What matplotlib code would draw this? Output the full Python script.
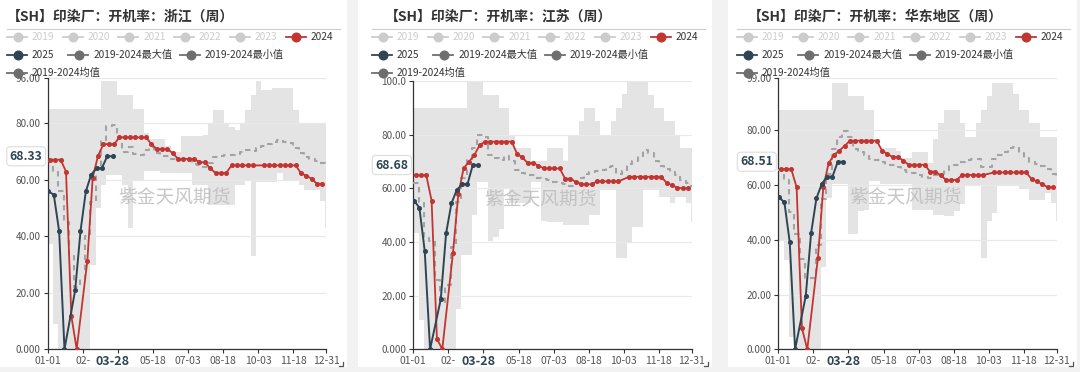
import numpy as np
import matplotlib
matplotlib.use("Agg")
import matplotlib.pyplot as plt
from matplotlib.lines import Line2D
from matplotlib.patches import Rectangle
from matplotlib.transforms import blended_transform_factory
import datetime as dt

plt.rcParams['font.family'] = ['Noto Sans CJK SC', 'DejaVu Sans']

nan = np.nan
W, H = 1080, 372

# ---------------- data ----------------
TITLES = ['【SH】印染厂：开机率：浙江（周）',
          '【SH】印染厂：开机率：江苏（周）',
          '【SH】印染厂：开机率：华东地区（周）']
TICK_DATES = ['01-01', '02-16', '04-02', '05-18', '07-03', '08-18', '10-03', '11-18', '12-31']
POINTER_DATE = '03-28'
START_2024 = '01-04'
START_2025 = '01-02'
WATERMARK = '紫金天风期货'
LEGEND_NAMES = ['2019', '2020', '2021', '2022', '2023', '2024',
                '2025', '2019-2024最大值', '2019-2024最小值', '2019-2024均值']

Y_MAX = [96, 100, 99]
Y_TICK_LABELS = [['0.000', '20.00', '40.00', '60.00', '80.00', '96.00'],
                 ['0.000', '20.00', '40.00', '60.00', '80.00', '100.0'],
                 ['0.000', '20.00', '40.00', '60.00', '80.00', '99.00']]
POINTER_LABELS = ['68.33', '68.68', '68.51']

# 浙江
zj_2024 = [67.1, 67.1, 67.1, 62.9, 11.8, 0.0, nan, 31.4, 60.8, 68.5,
           72.6, 72.6, 72.6, 75.0, 75.0, 75.0, 75.0, 75.0, 75.0, 72.6,
           70.9, 70.9, 70.9, 69.4, 67.4, 67.4, 67.4, 67.4, 66.2, 66.2,
           64.1, 62.4, 62.4, 62.4, 65.1, 65.1, 65.1, 65.1, 65.1, nan,
           65.1, 65.1, 65.1, 65.1, 65.1, 65.1, 65.1, 62.4, 61.4, 60.4,
           58.6, 58.6]
zj_2025 = [55.9, 54.7, 41.8, 0.0, nan, 20.9, 41.8, 55.9, 61.8, 64.1, 64.1, 68.33, 68.33]
zj_mean = [66.5, 63, 56, 45, 33, 22, 25, 40, 52, 65,
           74, 79, 79.5, 75, 70, 71.5, 69, 68.8, 70.5, 71.5,
           69.5, 68.5, 68.5, 67.5, 67, 67, 66.5, 65.5, 65.3, 64.7,
           66, 68, 68.5, 68.8, 68.8, 69.3, 69.9, 70.6, 70.2, 71.2,
           71.8, 72.8, 73.5, 74.1, 73.5, 72.9, 71.3, 69.5, 68, 67.3,
           66.5, 65.8, 64.7]
zj_max = [85, 85, 85, 85, 85, 85, 85, 85, 85, 85,
          95, 95, 95, 90, 90, 90, 85, 85, 76.5, 74.5,
          74.5, 74.5, 72, 70, 70, 75.5, 75.5, 75.5, 75.5, 76,
          80, 84.7, 84.7, 80, 78.8, 77.6, 80, 84.7, 90, 95,
          91.8, 91.8, 92.6, 92.6, 92.6, 92.6, 84.7, 80, 80, 80,
          80, 80, 80]
zj_min = [37.3, 8.8, 0, 0, 0, 0, 0, 0, 30, 50,
          58, 61.8, 61.8, 61.8, 58, 43, 60, 60, 63, 63,
          63, 62.4, 62.4, 62.4, 62.4, 62.4, 62.4, 58.2, 58.2, 58.2,
          51.2, 51.2, 51.2, 51.2, 51.2, 58, 58, 60, 32.9, 59.2,
          59.2, 59.2, 59.2, 62.4, 59.6, 59.6, 59.6, 58.2, 56.5, 56.5,
          56.5, 52.4, 43]

# 江苏
js_2024 = [64.9, 64.9, 64.9, 55.4, 3.9, 0.0, nan, 35.9, 57.7, 67.5,
           69.9, 72.4, 76.1, 77.4, 77.4, 77.4, 77.4, 77.4, 77.4, 72.9,
           71.5, 69.4, 69.4, 68.5, 67.4, 67.4, 67.4, 67.4, 63.6, 63.6,
           62.4, 61.5, 61.5, 61.5, 62.6, 62.6, 62.6, 62.6, 62.6, nan,
           64.3, 64.3, 64.3, 64.3, 64.3, 64.3, 64.3, 62.1, 61.1, 60.3,
           60.0, 60.0]
js_2025 = [55.4, 52.8, 36.6, 0.0, nan, 18.6, 43.2, 54.4, 59.4, 61.5, 61.5, 68.68, 68.68]
js_mean = [62, 55, 41.5, 40.5, 26, 17.5, 24, 38, 55, 64,
           70.5, 75, 80, 79, 72.5, 71.2, 70.6, 72, 70.3, 67,
           65.8, 65, 65, 63.8, 63.3, 63, 62.5, 62, 61.5, 61,
           62, 63.8, 65.3, 66, 66.3, 67, 68, 68.5, 65.5, 66.5,
           69, 70, 72, 74.3, 73.1, 70, 68.5, 67.3, 66, 65,
           63, 61.8, 61]
js_max = [89.8, 89.8, 89.8, 89.8, 89.8, 89.8, 89.8, 89.8, 89.8, 89.8,
          100, 100, 100, 94.8, 94.8, 94.8, 89.8, 89.8, 80, 75,
          75, 75, 70, 70, 70, 75, 75, 75, 70, 80,
          80, 85, 90, 90, 85, 80, 80, 85, 90, 95,
          100, 100, 100, 100, 94.8, 90, 90, 85, 85, 80,
          75, 75, 75]
js_min = [43.2, 11, 0, 0, 0, 0, 0, 0, 15, 35.2,
          35.2, 50, 62.5, 62.5, 40.3, 42, 45, 60, 54.5, 54.5,
          54.5, 54.5, 62.5, 62.5, 47.7, 47.6, 47.6, 47.6, 46.3, 46.3,
          46.3, 46.3, 46.3, 50, 50, 59.4, 59.4, 59.4, 33.9, 33.9,
          40, 45.7, 45.7, 59.4, 59.4, 59.4, 56.9, 56.9, 54.4, 56.9,
          56.9, 54.4, 47.6]

# 华东地区
hd_2024 = [65.8, 65.8, 65.8, 59.2, 7.7, 0.0, nan, 33.5, 59.2, 68.0,
           71.0, 72.6, 74.3, 76.2, 76.2, 76.2, 76.2, 76.2, 76.2, 72.6,
           71.4, 70.2, 70.2, 68.9, 67.4, 67.4, 67.4, 67.4, 64.9, 64.9,
           63.5, 61.9, 61.9, 61.9, 63.7, 63.7, 63.7, 63.7, 63.7, nan,
           64.6, 64.6, 64.6, 64.6, 64.6, 64.6, 64.6, 62.2, 61.3, 60.4,
           59.2, 59.2]
hd_2025 = [55.5, 53.7, 39.1, 0.0, nan, 19.5, 42.4, 55.2, 60.4, 63.1, 63.1, 68.51, 68.51]
hd_mean = [65.5, 62, 50, 42, 33, 26, 26, 38, 55, 64,
           73, 77.5, 79.6, 77.5, 73, 72, 71, 69.5, 69, 68.3,
           67.5, 67.5, 66.5, 65.5, 64.9, 64.4, 63.7, 63, 62.5, 63.8,
           64.2, 65.5, 67, 67.5, 68.3, 69, 69.6, 69.5, 66.5, 66.5,
           69.5, 71, 72.2, 73.6, 74, 71.8, 70, 68.5, 67.7, 67,
           66, 64, 62.6]
hd_max = [87.5, 87.5, 87.5, 87.5, 87.5, 87.5, 87.5, 87.5, 87.5, 87.5,
          97.4, 97.4, 97.4, 92.6, 92.6, 92.6, 87.5, 87.5, 77, 73.5,
          73.5, 73.5, 72.5, 70, 70, 72.2, 72.2, 72.2, 68, 77,
          82.6, 87.5, 87.5, 87.5, 82.6, 77.5, 77.5, 82.6, 87.5, 92.6,
          97.4, 97.4, 97.4, 97.4, 93.3, 87.5, 87.5, 82.6, 82.6, 77.5,
          77.5, 77.5, 77.5]
hd_min = [40, 32.6, 4.6, 0, 0, 0, 0, 0, 30, 55.2,
          60.4, 60.4, 60.4, 42, 42, 50.5, 51, 61.4, 61.4, 60.5,
          60.5, 60.5, 60.5, 60.5, 60.5, 51, 51, 51, 51, 49.2,
          49.2, 48.6, 48.6, 50.5, 53, 60.2, 60.2, 60.2, 33.4, 46.8,
          49.8, 60.2, 60.2, 60.2, 60.2, 58.4, 58.4, 54.7, 54.7, 54.7,
          57, 53.5, 46.8]

PANELS = [
    dict(y2024=zj_2024, y2025=zj_2025, mean=zj_mean, mx=zj_max, mn=zj_min),
    dict(y2024=js_2024, y2025=js_2025, mean=js_mean, mx=js_max, mn=js_min),
    dict(y2024=hd_2024, y2025=hd_2025, mean=hd_mean, mx=hd_max, mn=hd_min),
]

# ---------------- styling / layout ----------------
C_RED = '#c23531'
C_NAVY = '#2f4554'
C_GREY = '#6e6e6e'
C_OFF = '#cccccc'
C_BAND = '#e4e4e4'
C_MEAN = '#a3a3a3'

PANEL_BG = [(0, 347), (358, 712), (728, 1077)]
LEG_X = [7, 372, 737]
TITLE_X = [7, 385, 748]
AX_LEFT = [47.7, 413.3, 778.3]
AX_W = 278.4
AX_TOP = [78.1, 81.0, 78.3]
AX_BOT = 349.3


def doy(md):
    m, d = map(int, md.split('-'))
    return (dt.date(2024, m, d) - dt.date(2024, 1, 1)).days


def fx(px):
    return px / W


def fy(py):
    return 1 - py / H


fig = plt.figure(figsize=(W / 100, H / 100), dpi=100, facecolor='#f2f2f2')

for (a, b) in PANEL_BG:
    fig.add_artist(Rectangle((fx(a), fy(367)), (b - a) / W, 367 / H,
                             transform=fig.transFigure, facecolor='white',
                             edgecolor='none', zorder=-5))

tick_days = [doy(t) for t in TICK_DATES]
x_end = doy('12-31')
s24 = doy(START_2024)
s25 = doy(START_2025)
ptr_day = doy(POINTER_DATE)

# tick labels as displayed: the ones under the 03-28 pointer label are
# partly / fully hidden in the reference
shown_labels = list(TICK_DATES)
shown_labels[1] = TICK_DATES[1][:3]
shown_labels[2] = ''

for k, p in enumerate(PANELS):
    left, top = AX_LEFT[k], AX_TOP[k]
    ax = fig.add_axes([fx(left), fy(AX_BOT), AX_W / W, (AX_BOT - top) / H])
    ax.set_xlim(0, x_end)
    ax.set_ylim(0, Y_MAX[k])
    ax.set_facecolor('white')

    # band and mean (weekly grid)
    wk = 7 * np.arange(len(p['mx']))
    xs = np.append(wk, x_end)
    mx = np.append(p['mx'], p['mx'][-1])
    mn = np.append(p['mn'], p['mn'][-1])
    me = np.append(p['mean'], p['mean'][-1])
    ax.fill_between(xs, mn, mx, step='post', color=C_BAND, lw=0, zorder=1)
    ax.plot(xs, me, drawstyle='steps-post', color=C_MEAN, lw=1.5,
            linestyle=(0, (2.6, 2.2)), zorder=3)

    # 2024
    y24 = np.array(p['y2024'], dtype=float)
    x24 = s24 + 7 * np.arange(len(y24))
    ok = ~np.isnan(y24)
    ax.plot(x24[ok], y24[ok], color=C_RED, lw=1.3, marker='o', ms=2.6,
            zorder=4)
    # 2025
    y25 = np.array(p['y2025'], dtype=float)
    x25 = s25 + 7 * np.arange(len(y25))
    ok = ~np.isnan(y25)
    ax.plot(x25[ok], y25[ok], color=C_NAVY, lw=1.4, marker='o', ms=2.6,
            zorder=5)

    # axes styling
    yt = [0, 20, 40, 60, 80, Y_MAX[k]]
    ax.set_yticks(yt)
    ax.set_yticklabels(Y_TICK_LABELS[k])
    ax.set_xticks(tick_days)
    ax.set_xticklabels(shown_labels)
    ax.yaxis.grid(True, color='#e9e9e9', lw=0.9)
    ax.set_axisbelow('line')
    for s in ['top', 'right']:
        ax.spines[s].set_visible(False)
    for s in ['left', 'bottom']:
        ax.spines[s].set_color('#333333')
        ax.spines[s].set_linewidth(0.9)
    ax.tick_params(axis='x', length=3, width=0.8, color='#333333',
                   labelsize=7.5, labelcolor='#555555', pad=2)
    ax.tick_params(axis='y', length=3, width=0.8, color='#333333',
                   labelsize=7.2, labelcolor='#555555', pad=2)

    ax.text(0.455, 0.558, WATERMARK, transform=ax.transAxes, ha='center',
            va='center', fontsize=13.5, color='#bdbdbd', alpha=0.85, zorder=2)

    # pointer label on y axis
    tr = blended_transform_factory(ax.transAxes, ax.transData)
    ax.text(-21.5 / AX_W, p['y2025'][-1], POINTER_LABELS[k], transform=tr,
            ha='center', va='center', fontsize=8.8, fontweight='bold',
            color=C_NAVY, clip_on=False, zorder=10,
            bbox=dict(boxstyle='round,pad=0.25,rounding_size=0.3',
                      facecolor='white', edgecolor='#dddddd', lw=0.8))

    # pointer label on x axis
    pxd = AX_W / x_end
    cx = left + ptr_day * pxd
    fig.text(fx(cx - 1), fy(361.5), POINTER_DATE, ha='center', va='center',
             fontsize=9, fontweight='bold', color=C_NAVY, zorder=6)

    # title
    fig.text(fx(TITLE_X[k]), fy(16.5), TITLES[k], ha='left', va='center',
             fontsize=10, fontweight='bold', color='#333333')
    x0 = LEG_X[k]
    fig.add_artist(Line2D([fx(x0), fx(x0 + 333)], [fy(29.3)] * 2,
                          color='#cccccc', lw=0.8))

    # legend
    colors = [C_OFF] * 5 + [C_RED, C_NAVY, C_GREY, C_GREY, C_GREY]
    tcolors = [C_OFF] * 5 + ['#333333'] * 5
    pos = [(0, 37.3), (55.7, 37.3), (111.3, 37.3), (167, 37.3), (222.7, 37.3),
           (278.7, 37.3), (0, 55.3), (61.3, 55.3), (173, 55.3), (0, 73.3)]
    for name, c, tc, (dx, yy) in zip(LEGEND_NAMES, colors, tcolors, pos):
        xl = x0 + dx
        fig.add_artist(Line2D([fx(xl), fx(xl + 20)], [fy(yy)] * 2, color=c,
                              lw=1.3, zorder=7))
        fig.add_artist(Line2D([fx(xl + 10.5)], [fy(yy)], color=c, marker='o',
                              ms=6.2, lw=0, zorder=7))
        fig.text(fx(xl + 25), fy(yy), name, ha='left', va='center',
                 fontsize=7.3, color=tc, zorder=8)

    # resize corner mark
    rx = PANEL_BG[k][1] - 4
    fig.add_artist(Line2D([fx(rx - 4), fx(rx), fx(rx)],
                          [fy(366), fy(366), fy(362)], color='#555555', lw=0.9))

fig.savefig('out.png', dpi=100, facecolor=fig.get_facecolor())
